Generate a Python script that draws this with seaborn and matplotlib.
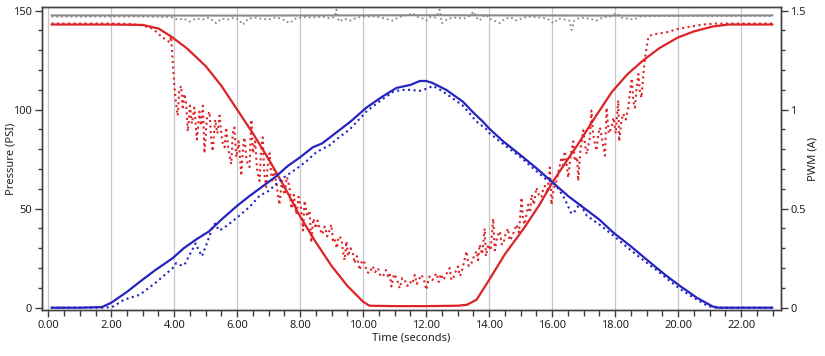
import numpy as np
import pandas as pd
import seaborn as sns
import matplotlib.pyplot as plt
from matplotlib.ticker import MultipleLocator, FixedLocator

# (time s, pressure psi) pressure command
red_cmd = [(0.1, 143), (1.0, 143), (2.0, 143), (3.0, 142.8), (3.5, 141), (3.9, 137), (4.4, 131),
           (5.0, 122), (5.5, 112), (6.0, 100), (6.5, 88), (7.0, 75), (7.5, 61), (8.0, 46), (8.5, 33),
           (9.0, 21), (9.5, 11), (10.0, 3), (10.2, 1), (11.0, 0.8), (12.0, 0.8), (13.0, 1),
           (13.3, 1.5), (13.6, 4), (14.0, 14), (14.5, 27), (15.1, 40), (15.6, 52), (16.0, 63),
           (16.5, 75), (16.8, 82), (17.4, 97), (17.9, 109), (18.4, 118), (18.9, 125), (19.4, 131),
           (20.0, 136.5), (20.5, 139.5), (21.1, 142), (21.6, 143), (23.0, 143)]

# (time s, pressure psi) measured pressure
red_act = [(0.1, 143.5), (1.0, 143.5), (2.0, 143.5), (2.6, 143.3), (3.0, 142.5), (3.3, 141), (3.5, 138.5),
           (3.6, 136.5), (3.75, 135.5), (3.85, 134), (3.9, 137), (4.0, 113), (4.05, 104), (4.11, 97),
           (4.16, 110), (4.22, 112), (4.27, 100), (4.32, 108), (4.38, 103), (4.43, 89), (4.5, 102),
           (4.56, 93), (4.64, 101), (4.72, 85), (4.8, 99), (4.85, 92), (4.91, 102), (4.96, 78),
           (5.04, 96), (5.12, 99), (5.17, 86), (5.22, 79), (5.3, 95), (5.37, 88), (5.44, 97),
           (5.52, 84), (5.6, 81), (5.65, 91), (5.72, 80), (5.81, 72.5), (5.86, 88), (5.91, 91),
           (5.97, 76), (6.05, 84), (6.13, 66.6), (6.18, 80), (6.23, 86), (6.3, 74), (6.39, 71),
           (6.45, 95), (6.5, 78), (6.57, 84), (6.63, 70), (6.71, 64), (6.76, 80), (6.81, 86),
           (6.86, 68), (6.92, 61), (6.98, 74), (7.03, 78), (7.1, 63), (7.17, 70), (7.25, 62),
           (7.34, 52), (7.42, 64), (7.5, 57), (7.58, 66), (7.66, 61), (7.72, 50), (7.8, 57),
           (7.88, 47), (7.95, 56), (8.03, 50), (8.09, 39), (8.14, 54), (8.22, 46), (8.3, 49),
           (8.35, 33), (8.42, 45), (8.5, 40), (8.55, 44), (8.62, 40), (8.7, 37), (8.78, 41),
           (8.86, 36), (8.93, 39), (8.99, 42), (9.04, 34), (9.09, 35), (9.16, 30), (9.22, 36),
           (9.31, 35), (9.36, 28), (9.41, 24), (9.47, 33.5), (9.52, 26), (9.6, 30), (9.67, 27.6),
           (9.73, 22.5), (9.8, 26), (9.89, 19), (9.97, 24), (10.05, 22.5), (10.12, 18), (10.2, 17.4),
           (10.3, 21), (10.38, 18), (10.47, 20), (10.55, 16), (10.63, 15.8), (10.72, 19), (10.79, 16),
           (10.84, 17.4), (10.9, 10.7), (10.98, 17), (11.06, 14.9), (11.16, 9.8), (11.24, 15),
           (11.32, 14), (11.4, 11), (11.48, 13.2), (11.56, 12), (11.64, 16.6), (11.7, 12),
           (11.74, 13.2), (11.8, 15), (11.85, 16.6), (11.93, 14), (12.01, 9), (12.06, 13),
           (12.11, 15.8), (12.2, 14), (12.27, 16), (12.33, 17.4), (12.4, 13), (12.47, 17),
           (12.54, 14), (12.62, 16), (12.7, 19), (12.75, 20), (12.8, 14), (12.86, 14.9), (12.93, 18),
           (13.01, 20.8), (13.07, 16), (13.12, 17.4), (13.2, 23), (13.28, 28.5), (13.35, 21),
           (13.44, 22.5), (13.52, 26), (13.6, 28.5), (13.65, 24), (13.7, 31.9), (13.78, 27),
           (13.86, 40), (13.9, 26), (13.97, 31.9), (14.05, 29), (14.13, 45), (14.18, 29), (14.26, 36),
           (14.34, 38.6), (14.4, 32), (14.45, 32), (14.52, 37), (14.6, 40), (14.65, 34), (14.7, 35),
           (14.78, 38), (14.87, 42), (14.95, 38), (15.03, 55.6), (15.08, 44), (15.13, 42), (15.24, 52),
           (15.3, 48), (15.35, 57), (15.42, 52), (15.5, 60.6), (15.58, 57), (15.66, 55.6), (15.72, 60),
           (15.77, 61.5), (15.85, 58), (15.93, 70.8), (15.98, 52), (16.05, 60), (16.14, 64),
           (16.22, 70), (16.3, 76), (16.35, 72), (16.4, 79), (16.45, 74), (16.51, 65.7), (16.6, 78),
           (16.67, 84), (16.72, 74), (16.8, 76), (16.83, 64), (16.9, 80), (16.99, 89.5), (17.05, 82),
           (17.1, 77.6), (17.2, 86), (17.25, 99.6), (17.3, 88), (17.36, 83), (17.41, 79.3),
           (17.47, 88), (17.52, 91), (17.6, 84), (17.68, 76.8), (17.73, 101), (17.8, 88), (17.89, 91),
           (17.95, 96), (18.02, 88), (18.1, 104.7), (18.13, 84), (18.2, 94), (18.26, 98), (18.34, 95),
           (18.42, 101), (18.48, 110), (18.53, 115.8), (18.58, 104), (18.63, 101), (18.68, 110),
           (18.74, 118), (18.79, 109), (18.84, 106), (18.9, 118), (18.95, 126), (19.0, 131),
           (19.06, 137), (19.2, 138), (19.4, 138.5), (19.6, 139), (19.75, 139.5), (19.9, 140.5),
           (20.1, 141), (20.4, 142), (20.8, 143), (21.2, 143.5), (22.0, 143.5), (23.0, 143.5)]

# (time s, psi) supply pressure, setpoint and measured
gray_cmd = [(0.1, 147.6), (6.0, 147.5), (12.0, 147.7), (18.0, 147.5), (23.0, 147.6)]
gray_act = [(0.1, 147), (1.0, 147), (2.0, 147), (3.0, 147), (3.9, 146.8), (4.1, 145.5), (4.3, 146),
            (4.48, 144.5), (4.7, 146), (4.9, 145.5), (5.1, 146.5), (5.33, 143.7), (5.5, 146),
            (5.7, 145.5), (5.9, 146.5), (6.05, 145.5), (6.18, 142.9), (6.35, 146), (6.6, 146.5),
            (6.8, 145.8), (7.0, 145.5), (7.2, 146.5), (7.4, 146), (7.66, 143.7), (7.85, 146),
            (8.1, 146.8), (8.4, 146.5), (8.7, 147), (8.95, 146), (9.1, 147), (9.15, 150.5), (9.2, 146),
            (9.25, 144.5), (9.4, 146), (9.6, 145), (9.8, 146.5), (10.0, 147), (10.4, 147), (10.7, 146),
            (10.94, 145), (11.1, 146.5), (11.3, 147.5), (11.45, 148), (11.58, 148.8), (11.7, 147),
            (11.9, 146), (12.0, 145), (12.15, 147), (12.3, 146.5), (12.43, 150.5), (12.5, 143.7),
            (12.7, 146), (12.95, 146.5), (13.2, 146), (13.4, 147.5), (13.5, 149.6), (13.6, 146.5),
            (13.7, 145), (13.8, 147), (13.9, 148), (14.0, 146), (14.15, 145), (14.34, 143.7),
            (14.5, 146), (14.7, 146.5), (14.87, 145), (15.1, 146.5), (15.3, 147), (15.6, 146.5),
            (15.85, 146), (16.04, 143.7), (16.2, 146), (16.4, 145.5), (16.55, 145), (16.62, 140.3),
            (16.7, 145), (16.9, 146.5), (17.2, 146), (17.4, 145), (17.6, 146.5), (17.85, 147),
            (18.05, 148.8), (18.2, 146.5), (18.4, 146), (18.6, 145.5), (18.8, 147), (19.0, 147.2),
            (20.0, 147.3), (21.0, 147.3), (22.0, 147.3), (23.0, 147.3)]

# (time s, amps) PWM command and feedback
blue_cmd = [(0.1, 0), (1.0, 0), (1.7, 0.003), (2.0, 0.025), (2.5, 0.08), (2.9, 0.13), (3.4, 0.19),
            (3.95, 0.25), (4.3, 0.30), (4.7, 0.345), (5.1, 0.385), (5.5, 0.445), (6.0, 0.515),
            (6.4, 0.565), (6.7, 0.60), (7.25, 0.665), (7.6, 0.715), (8.0, 0.76), (8.4, 0.81),
            (8.7, 0.83), (9.15, 0.885), (9.6, 0.94), (10.1, 1.01), (10.6, 1.065), (11.06, 1.11),
            (11.5, 1.125), (11.8, 1.145), (12.0, 1.145), (12.2, 1.135), (12.64, 1.10), (13.17, 1.04),
            (13.5, 0.985), (13.8, 0.94), (14.0, 0.905), (14.45, 0.84), (15.0, 0.77), (15.5, 0.705),
            (16.0, 0.635), (16.5, 0.565), (17.0, 0.505), (17.5, 0.445), (17.94, 0.38), (18.5, 0.31),
            (19.1, 0.23), (19.6, 0.165), (20.06, 0.11), (20.6, 0.05), (21.1, 0.006), (21.3, 0),
            (23.0, 0)]
blue_act = [(0.1, 0), (1.0, 0), (1.8, 0), (2.05, 0.005), (2.4, 0.04), (2.9, 0.065), (3.4, 0.125),
            (3.95, 0.20), (4.06, 0.225), (4.2, 0.215), (4.32, 0.215), (4.5, 0.27), (4.68, 0.325),
            (4.78, 0.29), (4.88, 0.26), (5.05, 0.33), (5.2, 0.40), (5.3, 0.425), (5.42, 0.39),
            (5.55, 0.40), (5.8, 0.43), (6.07, 0.465), (6.4, 0.51), (6.71, 0.565), (7.0, 0.59),
            (7.24, 0.625), (7.5, 0.66), (7.87, 0.70), (8.2, 0.74), (8.51, 0.785), (8.93, 0.82),
            (9.15, 0.85), (9.57, 0.90), (10.1, 0.99), (10.5, 1.04), (10.95, 1.09), (11.2, 1.10),
            (11.48, 1.10), (11.8, 1.095), (12.0, 1.105), (12.22, 1.12), (12.45, 1.10), (12.64, 1.08),
            (13.17, 1.02), (13.6, 0.94), (13.92, 0.90), (14.02, 0.88), (14.5, 0.82), (15.0, 0.76),
            (15.5, 0.69), (15.83, 0.645), (16.03, 0.635), (16.2, 0.60), (16.4, 0.55), (16.6, 0.48),
            (16.67, 0.475), (16.88, 0.525), (17.1, 0.465), (17.5, 0.42), (17.94, 0.365), (18.5, 0.29),
            (19.1, 0.215), (19.32, 0.19), (19.7, 0.14), (20.06, 0.095), (20.5, 0.05), (20.91, 0.012),
            (21.12, 0), (22.0, 0), (23.0, 0)]

x_ticks = [0, 2, 4, 6, 8, 10, 12, 14, 16, 18, 20, 22]
psi_ticks = [0, 50, 100, 150]
amp_ticks = [0, 0.5, 1, 1.5]
amp_labels = ["0", "0.5", "1", "1.5"]

RED = "#dc2428"
BLUE = "#2424c0"
GRAY = "#8a8a8a"
AX = "#404040"

sns.set_style("ticks")
plt.rcParams["font.family"] = ["Noto Sans", "DejaVu Sans"]
plt.rcParams["font.size"] = 8

fig = plt.figure(figsize=(8.25, 3.56), dpi=100)
ax = fig.add_axes([0.0505, 0.129, 0.8958, 0.8505])
ax2 = ax.twinx()

def df(pairs, col):
    return pd.DataFrame(pairs, columns=["t", col])

kw = dict(estimator=None, sort=False, legend=False)
sns.lineplot(data=df(gray_cmd, "p"), x="t", y="p", ax=ax, color=GRAY, lw=1.5, **kw)
sns.lineplot(data=df(gray_act, "p"), x="t", y="p", ax=ax, color=GRAY, lw=1.3, linestyle=":", **kw)
sns.lineplot(data=df(red_act, "p"), x="t", y="p", ax=ax, color=RED, lw=1.5, linestyle=":", **kw)
sns.lineplot(data=df(red_cmd, "p"), x="t", y="p", ax=ax, color=RED, lw=1.6, **kw)
sns.lineplot(data=df(blue_act, "a"), x="t", y="a", ax=ax2, color=BLUE, lw=1.5, linestyle=":", **kw)
sns.lineplot(data=df(blue_cmd, "a"), x="t", y="a", ax=ax2, color=BLUE, lw=1.6, **kw)

ylo, yhi = -1.2, 151.7
ax.set_xlim(-0.21, 23.26)
ax.set_ylim(ylo, yhi)
ax2.set_ylim(ylo / 100, yhi / 100)

ax.xaxis.set_major_locator(FixedLocator(x_ticks))
ax.set_xticklabels([f"{v:.2f}" for v in x_ticks])
ax.xaxis.set_minor_locator(MultipleLocator(0.5))
ax.yaxis.set_major_locator(FixedLocator(psi_ticks))
ax.yaxis.set_minor_locator(MultipleLocator(10))
ax2.yaxis.set_major_locator(FixedLocator(amp_ticks))
ax2.set_yticklabels(amp_labels)
ax2.yaxis.set_minor_locator(MultipleLocator(0.1))

ax.grid(axis="x", which="major", color="#c8c8c8", lw=0.9)
ax.set_axisbelow(True)

for a in (ax, ax2):
    for s in a.spines.values():
        s.set_color(AX)
        s.set_linewidth(1.0)
    a.tick_params(which="major", length=5, width=1, color=AX, labelcolor="#222222", labelsize=8, pad=2)
    a.tick_params(which="minor", length=3, width=1, color=AX)
ax.tick_params(axis="x", which="minor", length=4)

ax.set_xlabel("Time (seconds)", fontsize=8, color="#222222", labelpad=1)
ax.set_ylabel("Pressure (PSI)", fontsize=8, color="#222222")
ax.yaxis.set_label_coords(-0.034, 0.5)
ax2.set_ylabel("PWM (A)", fontsize=8, color="#222222", rotation=90)
ax2.yaxis.set_label_coords(1.036, 0.5)

fig.savefig("out.png", dpi=100)
